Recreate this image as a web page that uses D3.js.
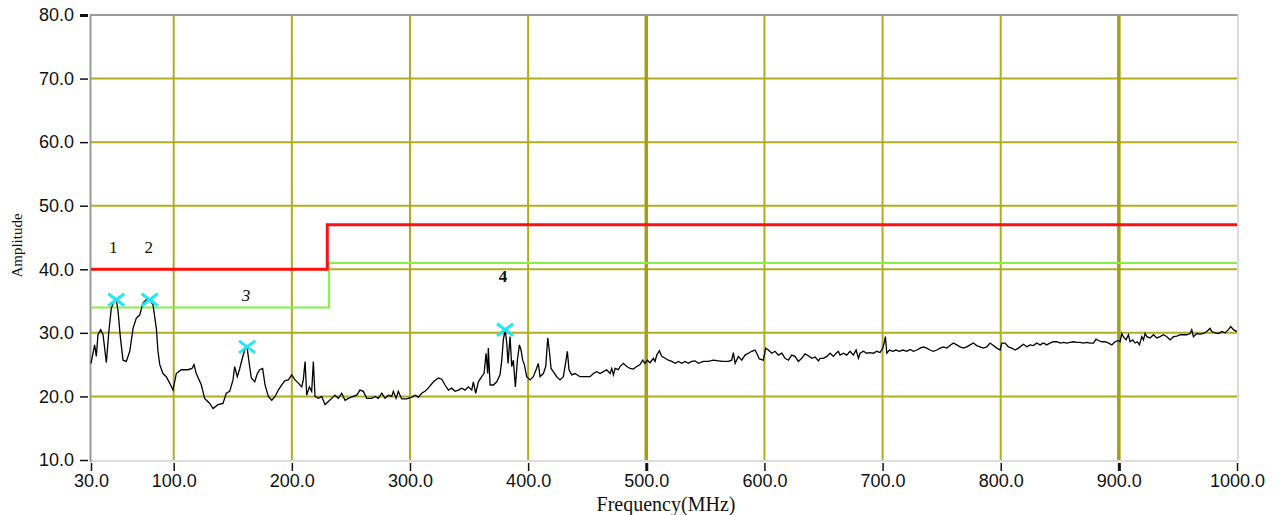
<!DOCTYPE html>
<html>
<head>
<meta charset="utf-8">
<script src="https://cdn.jsdelivr.net/npm/d3@7/dist/d3.min.js"></script>
<style>
  html, body { margin: 0; padding: 0; background: #ffffff; }
  svg { display: block; }
</style>
</head>
<body>
<svg id="chart" width="1280" height="515"></svg>
<script>
// Axis ticks
const xTicks = [30, 100, 200, 300, 400, 500, 600, 700, 800, 900, 1000];
const yTicks = [10, 20, 30, 40, 50, 60, 70, 80];

// Limit lines (step at 230 MHz)
const limitFreq = [30, 230, 230, 1000];
const limitRed = [40, 40, 47, 47];
const limitGreenFreq = [30, 231.5, 231.5, 1000];
const limitGreen = [34, 34, 41, 41];

// Measured trace: frequency (MHz) and amplitude
const traceFreq = [
  30.0, 33.1, 34.5, 35.9, 38.2, 40.2, 43.0, 45.0, 47.2, 50.1, 51.4, 52.9, 54.8, 57.1, 59.9, 62.8,
  65.6, 68.3, 71.2, 74.0, 77.7, 79.7, 82.5, 85.3, 86.7, 88.2, 90.9, 93.7, 96.6, 99.4, 102.2, 106.4,
  112.1, 115.5, 117.2, 119.1, 123.4, 126.2, 130.5, 133.3, 137.5, 141.7, 144.5, 147.4, 150.2, 151.6,
  153.8, 155.9, 158.1, 160.1, 162.1, 163.7, 165.7, 168.6, 170.8, 172.8, 175.3, 177.3, 180.1, 183.0,
  185.8, 188.6, 191.4, 194.2, 197.0, 199.9, 202.7, 205.5, 208.4, 209.7, 211.2, 212.6, 214.8, 216.8,
  218.2, 219.6, 222.4, 225.3, 228.1, 230.9, 233.8, 236.5, 239.3, 242.2, 245.0, 247.8, 252.0, 254.9,
  257.7, 260.5, 263.4, 267.6, 270.4, 273.2, 276.1, 278.9, 281.7, 284.5, 285.9, 288.2, 290.1, 293.0,
  297.2, 301.5, 304.3, 307.1, 309.9, 312.7, 315.5, 319.8, 324.0, 326.9, 329.7, 332.5, 335.3, 338.1,
  340.9, 343.8, 346.6, 349.4, 352.3, 353.6, 355.6, 357.9, 360.7, 362.7, 364.4, 365.8, 366.3, 367.8,
  370.6, 373.4, 376.2, 377.7, 379.0, 380.5, 381.9, 383.0, 384.7, 386.1, 387.5, 389.2, 390.9, 392.6,
  394.0, 395.4, 396.8, 398.8, 401.6, 404.4, 406.7, 408.6, 410.1, 412.9, 414.9, 416.6, 418.0, 419.4,
  421.3, 424.2, 427.0, 429.8, 432.1, 433.2, 434.6, 436.9, 439.7, 443.9, 448.2, 452.4, 455.2, 458.1,
  460.9, 463.7, 466.5, 469.4, 470.8, 472.2, 473.6, 476.4, 477.8, 480.6, 483.5, 486.3, 489.1, 491.9,
  494.7, 497.0, 498.9, 500.9, 503.2, 506.0, 507.4, 508.9, 511.1, 513.1, 515.9, 518.7, 521.6, 524.4,
  527.2, 530.0, 532.8, 535.6, 538.5, 541.3, 544.1, 548.3, 552.5, 556.8, 561.0, 565.2, 569.5, 572.3,
  573.7, 575.2, 578.0, 580.8, 583.6, 586.4, 589.3, 592.1, 593.5, 595.7, 599.1, 601.1, 603.3, 606.2,
  609.0, 611.8, 614.7, 617.5, 620.3, 623.1, 625.9, 628.7, 631.6, 634.4, 637.2, 640.1, 642.9, 645.7,
  647.1, 649.9, 652.8, 655.6, 658.4, 660.7, 662.6, 664.0, 666.9, 669.7, 672.5, 675.3, 677.6, 679.6,
  681.0, 683.8, 686.6, 689.4, 692.2, 695.1, 697.9, 700.2, 701.3, 702.4, 703.6, 705.8, 708.6, 711.4,
  714.2, 717.1, 720.5, 723.3, 726.1, 729.0, 731.8, 734.5, 737.4, 740.2, 743.0, 745.9, 748.7, 751.5,
  754.4, 757.1, 759.9, 762.8, 765.6, 768.4, 771.3, 774.1, 776.9, 779.7, 782.5, 785.3, 788.2, 791.0,
  793.8, 796.7, 799.5, 800.9, 803.7, 806.5, 809.4, 812.2, 815.0, 819.2, 822.1, 824.9, 827.7, 830.5,
  833.3, 836.2, 839.0, 841.8, 844.6, 847.5, 850.3, 853.1, 855.9, 858.7, 861.5, 864.4, 867.2, 870.0,
  872.9, 875.7, 878.5, 880.7, 882.7, 885.6, 888.4, 891.2, 894.0, 896.8, 899.6, 901.0, 902.5, 903.8,
  906.1, 908.1, 909.5, 911.8, 913.7, 915.7, 917.4, 919.4, 920.8, 922.2, 923.7, 926.4, 929.3, 932.1,
  934.9, 937.7, 940.6, 943.4, 946.2, 949.1, 951.9, 954.7, 957.5, 960.3, 961.7, 963.1, 966.0, 968.8,
  971.6, 974.4, 977.2, 978.6, 981.4, 984.3, 987.1, 989.9, 992.7, 994.7, 997.0, 999.8
];
const traceAmp = [
  25.2, 28.1, 26.3, 29.7, 30.5, 29.7, 25.3, 30.0, 33.9, 35.2, 35.2, 33.4, 29.4, 25.7, 25.5, 27.1,
  30.7, 32.3, 32.8, 34.7, 35.4, 35.2, 34.4, 30.7, 27.1, 25.0, 23.6, 23.1, 22.1, 21.0, 23.6, 24.2,
  24.2, 24.4, 25.0, 23.6, 21.8, 19.7, 18.9, 18.1, 18.7, 18.9, 20.5, 20.8, 22.6, 24.7,
  23.1, 24.4, 26.0, 27.3, 27.8, 25.5, 22.9, 22.3, 23.6, 24.2, 24.4, 21.8, 20.0, 19.4,
  20.0, 21.0, 21.8, 22.5, 22.6, 23.4, 22.6, 22.1, 21.5, 22.6, 25.5, 20.2, 21.5, 20.8,
  25.5, 20.0, 19.7, 20.0, 18.7, 19.2, 19.7, 20.2, 19.7, 20.5, 19.4, 19.7, 20.0, 20.2,
  21.0, 20.8, 19.7, 19.7, 20.0, 19.7, 20.5, 19.7, 20.2, 20.0, 20.8, 19.7, 20.8, 19.6,
  19.6, 19.9, 20.2, 19.9, 20.5, 20.8, 21.3, 22.3, 22.9, 22.7, 21.8, 21.0, 21.3, 20.8,
  21.0, 21.3, 21.0, 21.5, 21.0, 22.3, 20.5, 22.3, 23.1, 23.6, 26.8, 23.6, 27.6, 21.8,
  21.8, 22.3, 23.4, 25.7, 28.9, 30.5, 28.4, 25.2, 29.4, 24.7, 25.7, 21.5, 25.7, 28.1,
  27.3, 25.7, 25.0, 23.1, 22.6, 23.1, 24.2, 25.2, 23.1, 23.6, 24.7, 29.2, 27.1, 24.4,
  23.9, 23.1, 22.6, 23.1, 25.7, 27.1, 24.2, 23.4, 23.6, 23.1, 23.1, 23.1, 23.6, 23.9,
  23.6, 23.9, 24.2, 23.6, 24.4, 23.4, 24.4, 24.2, 24.7, 25.2, 24.7, 24.4, 24.3, 24.7,
  25.0, 25.7, 25.2, 25.7, 25.3, 26.0, 25.5, 26.5, 27.2, 26.3, 26.0, 25.7, 25.5, 25.2,
  25.5, 25.2, 25.5, 25.2, 25.5, 25.6, 25.2, 25.5, 25.5, 25.7, 25.6, 25.5, 25.5, 25.7,
  26.9, 25.2, 26.3, 25.7, 26.5, 26.8, 27.1, 27.3, 26.8, 25.9, 25.7, 27.6, 27.3, 26.8,
  27.1, 26.5, 26.8, 26.0, 25.7, 26.5, 26.3, 25.5, 26.0, 26.7, 26.4, 26.0, 26.2, 25.6,
  26.0, 26.0, 26.3, 26.8, 26.3, 26.8, 27.1, 26.5, 26.8, 26.5, 27.1, 26.5, 27.3, 26.0,
  26.8, 27.1, 26.8, 26.9, 26.8, 27.1, 26.9, 27.6, 28.4, 29.4, 26.8, 27.3, 27.1, 27.3,
  27.1, 27.3, 27.1, 27.4, 27.1, 27.3, 27.6, 27.8, 27.6, 27.3, 27.1, 27.3, 27.6, 27.8,
  27.6, 28.0, 28.4, 28.1, 27.8, 27.6, 27.8, 28.1, 28.4, 28.0, 27.8, 27.6, 27.8, 28.4,
  28.0, 27.6, 27.3, 28.4, 28.4, 27.8, 27.6, 27.3, 27.6, 28.2, 27.8, 28.1, 28.0, 28.4,
  28.1, 28.4, 28.1, 28.4, 28.6, 28.6, 28.4, 28.5, 28.4, 28.5, 28.6, 28.5, 28.5, 28.4,
  28.5, 28.4, 28.4, 29.0, 28.8, 28.6, 28.6, 28.4, 28.1, 28.6, 28.8, 28.6, 29.9, 29.4,
  28.9, 29.7, 28.6, 28.9, 28.4, 28.6, 28.1, 29.4, 28.9, 29.9, 29.4, 29.2, 29.7, 29.2,
  29.4, 29.7, 29.4, 28.9, 29.4, 29.5, 29.7, 29.7, 29.7, 29.9, 30.5, 29.4, 29.9, 29.8,
  29.9, 30.2, 30.7, 30.2, 30.0, 29.9, 30.2, 30.0, 30.5, 31.0, 30.5, 30.2
];

// Peak markers
const markerNames = ["1", "2", "3", "4"];
const markerFreq = [51.4, 79.7, 162.1, 380.5];
const markerAmp = [35.2, 35.2, 27.8, 30.5];

const svg = d3.select("#chart");
const plotL = 91, plotR = 1237, plotT = 15, plotB = 460;

const x = d3.scaleLinear().domain([30, 1000]).range([plotL, plotR]);
const y = d3.scaleLinear().domain([10, 80]).range([plotB, plotT]);

const gridColor = "#b0ae1e";
const gridThick = "#a3a10c";

// Horizontal grid lines
svg.append("g").selectAll("line")
  .data(yTicks.filter(v => v > 10 && v < 80))
  .join("line")
  .attr("x1", plotL).attr("x2", plotR + 1)
  .attr("y1", d => y(d)).attr("y2", d => y(d))
  .attr("stroke", gridColor).attr("stroke-width", 2);

// Vertical grid lines (500 and 900 MHz drawn heavier)
svg.append("g").selectAll("line")
  .data(xTicks.filter(v => v > 30 && v < 1000))
  .join("line")
  .attr("x1", d => x(d)).attr("x2", d => x(d))
  .attr("y1", plotT).attr("y2", plotB)
  .attr("stroke", d => (d === 500 || d === 900) ? gridThick : gridColor)
  .attr("stroke-width", d => (d === 500 || d === 900) ? 3.5 : 2);

// Frame: top and left darker, bottom and right light
svg.append("line").attr("x1", plotL).attr("x2", plotR + 1).attr("y1", plotT).attr("y2", plotT)
  .attr("stroke", "#9a9a9a").attr("stroke-width", 2);
svg.append("line").attr("x1", plotL - 1).attr("x2", plotR + 1).attr("y1", plotB + 1).attr("y2", plotB + 1)
  .attr("stroke", "#dcdcdc").attr("stroke-width", 2);
svg.append("line").attr("x1", plotR + 1).attr("x2", plotR + 1).attr("y1", plotT).attr("y2", plotB + 1)
  .attr("stroke", "#dcdcdc").attr("stroke-width", 2);
svg.append("line").attr("x1", plotL - 0.5).attr("x2", plotL - 0.5).attr("y1", plotT - 1).attr("y2", plotB + 2)
  .attr("stroke", "#9a9a9a").attr("stroke-width", 2);

// Axes
const tickFont = "'Liberation Sans', Arial, sans-serif";
const yAxis = svg.append("g")
  .attr("transform", `translate(${plotL - 3},0)`)
  .call(d3.axisLeft(y).tickValues(yTicks).tickFormat(d3.format(".1f"))
    .tickSize(8).tickSizeOuter(0).tickPadding(6));
yAxis.select(".domain").remove();
yAxis.selectAll(".tick line").attr("stroke", "#111")
  .attr("stroke-width", d => d === 80 ? 3 : 1.5);
yAxis.selectAll(".tick text")
  .attr("font-family", tickFont).attr("font-size", 18).attr("fill", "#111");

const xAxis = svg.append("g")
  .attr("transform", `translate(0,${plotB + 3})`)
  .call(d3.axisBottom(x).tickValues(xTicks).tickFormat(d3.format(".1f"))
    .tickSize(8).tickSizeOuter(0).tickPadding(3));
xAxis.select(".domain").remove();
xAxis.selectAll(".tick line").attr("stroke", "#111")
  .attr("stroke-width", d => (d === 500 || d === 900) ? 3 : 1.5);
xAxis.selectAll(".tick text")
  .attr("font-family", tickFont).attr("font-size", 18).attr("fill", "#111");

// Axis titles
const titleFont = "'Liberation Serif', 'Times New Roman', serif";
svg.append("text")
  .attr("transform", `translate(22,${(plotT + plotB) / 2 + 8}) rotate(-90)`)
  .attr("text-anchor", "middle")
  .attr("font-family", titleFont).attr("font-size", 15).attr("fill", "#111")
  .text("Amplitude");
svg.append("text")
  .attr("x", (plotL + plotR) / 2 + 2).attr("y", 511)
  .attr("text-anchor", "middle")
  .attr("font-family", titleFont).attr("font-size", 20).attr("fill", "#111")
  .text("Frequency(MHz)");

// Limit lines
const lineGen = d3.line().x(d => x(d[0])).y(d => y(d[1]));
svg.append("path")
  .attr("d", lineGen(limitGreenFreq.map((f, i) => [f, limitGreen[i]])))
  .attr("fill", "none").attr("stroke", "#84f04a").attr("stroke-width", 2);
svg.append("path")
  .attr("d", lineGen(limitFreq.map((f, i) => [f, limitRed[i]])))
  .attr("fill", "none").attr("stroke", "#ff1010").attr("stroke-width", 3);

// Trace
svg.append("path")
  .attr("d", lineGen(traceFreq.map((f, i) => [f, traceAmp[i]])))
  .attr("fill", "none").attr("stroke", "#000").attr("stroke-width", 1.3)
  .attr("stroke-linejoin", "miter");

// Peak markers (cyan crosses)
const marks = svg.append("g").selectAll("g")
  .data(markerFreq.map((f, i) => ({ f, a: markerAmp[i], name: markerNames[i] })))
  .join("g")
  .attr("transform", d => `translate(${x(d.f)},${y(d.a)})`);
marks.append("path")
  .attr("d", "M-8,-6L8,6M-8,6L8,-6")
  .attr("stroke", "#22e6f2").attr("stroke-width", 3).attr("fill", "none");

// Marker labels
const labelOffset = { "1": [-3, -47], "2": [-1, -47], "3": [-1, -46], "4": [-2, -48] };
const labelStyle = { "1": ["normal", "normal"], "2": ["normal", "normal"], "3": ["italic", "normal"], "4": ["normal", "bold"] };
marks.append("text")
  .attr("x", d => labelOffset[d.name][0])
  .attr("y", d => labelOffset[d.name][1])
  .attr("text-anchor", "middle")
  .attr("font-family", titleFont).attr("font-size", 17).attr("fill", "#111")
  .attr("font-style", d => labelStyle[d.name][0])
  .attr("font-weight", d => labelStyle[d.name][1])
  .text(d => d.name);
</script>
</body>
</html>
